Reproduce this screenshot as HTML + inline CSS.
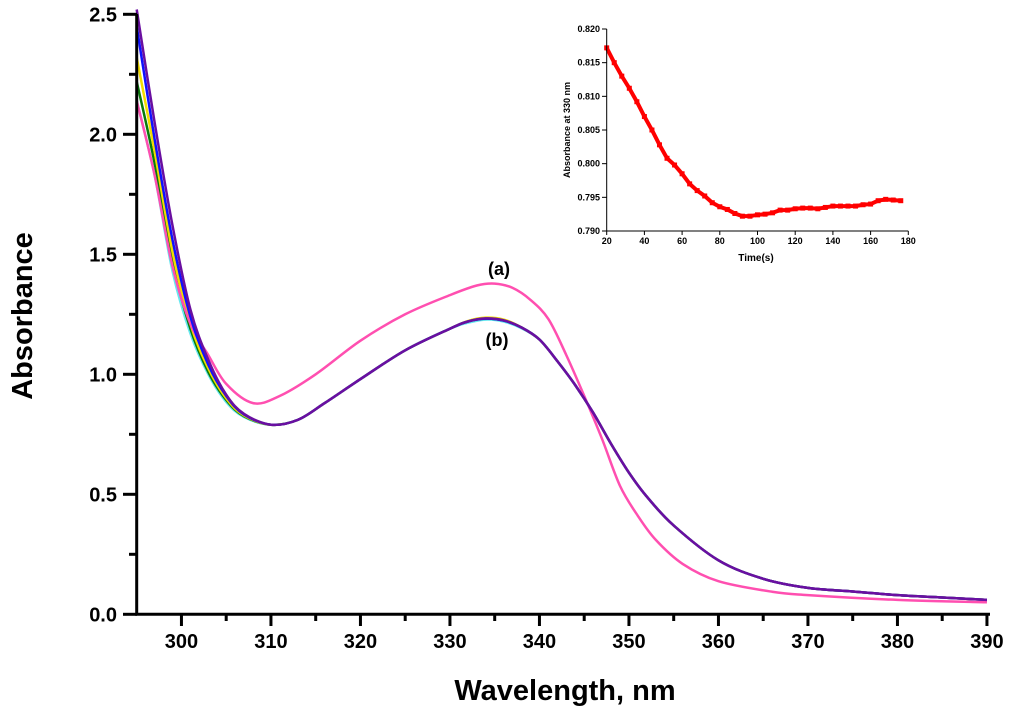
<!DOCTYPE html>
<html><head><meta charset="utf-8"><style>
body{margin:0;background:#fff;}
svg{display:block;font-family:"Liberation Sans",Arial,sans-serif;}
</style></head><body>
<svg id="chart" width="1017" height="709" viewBox="0 0 1017 709">
<g id="main"></g><g id="inset"></g>
</svg>
<script>
// ---- main chart data ----
const wlPurple=[295,297,299,301,303,305,307,310,313,316,320,325,330,332,334,336,338,340,342,344,346,348,350,352,355,360,365,370,375,380,385,390];
const absPurple=[2.52,2.05,1.62,1.27,1.06,0.915,0.835,0.79,0.81,0.88,0.98,1.10,1.19,1.22,1.233,1.225,1.195,1.145,1.055,0.955,0.84,0.71,0.59,0.49,0.37,0.225,0.148,0.11,0.095,0.08,0.07,0.06];
const absBlue=[2.45,1.98,1.56,1.24,1.04,0.91,0.832,0.79,0.81,0.88,0.98,1.10,1.19,1.22,1.232,1.224,1.195,1.145,1.055,0.955,0.84,0.71,0.59,0.49,0.37,0.225,0.148,0.11,0.095,0.08,0.07,0.06];
const absYellow=[2.32,1.93,1.51,1.21,1.025,0.90,0.828,0.79,0.81,0.88,0.98,1.10,1.19,1.222,1.236,1.228,1.195,1.145,1.055,0.955,0.84,0.71,0.59,0.49,0.37,0.225,0.148,0.11,0.095,0.08,0.07,0.06];
const absGreen=[2.22,1.88,1.47,1.19,1.01,0.893,0.825,0.79,0.81,0.88,0.98,1.10,1.19,1.22,1.232,1.224,1.195,1.145,1.055,0.955,0.84,0.71,0.59,0.49,0.37,0.225,0.148,0.11,0.095,0.08,0.07,0.06];
const absCyan=[2.14,1.83,1.43,1.17,1.00,0.885,0.822,0.79,0.81,0.88,0.98,1.10,1.19,1.215,1.228,1.22,1.192,1.145,1.055,0.955,0.84,0.71,0.59,0.49,0.37,0.225,0.148,0.11,0.095,0.08,0.07,0.06];
const wlPink=[295,297,299,301,303,305,308,311,315,320,325,330,333,335,337,339,341,343,345,347,349,351,353,356,360,366,370,380,390];
const absPink=[2.14,1.83,1.45,1.21,1.08,0.96,0.88,0.91,1.00,1.14,1.25,1.33,1.37,1.378,1.36,1.31,1.23,1.08,0.91,0.73,0.535,0.41,0.31,0.21,0.138,0.094,0.08,0.06,0.05];
const xTicks=[300,310,320,330,340,350,360,370,380,390];
const yTicks=[0.0,0.5,1.0,1.5,2.0,2.5];
// ---- inset data ----
const tInset=[20,24,28,32,36,40,44,48,52,56,60,64,68,72,76,80,84,88,92,96,100,104,108,112,116,120,124,128,132,136,140,144,148,152,156,160,164,168,172,176];
const aInset=[.8172,.8150,.8130,.8112,.8092,.8070,.8050,.8028,.8008,.7998,.7985,.7970,.7960,.7952,.7942,.7936,.7932,.7926,.7922,.7922,.7924,.7925,.7927,.7931,.7931,.7933,.7934,.7934,.7933,.7935,.7937,.7937,.7937,.7937,.7939,.7940,.7945,.7947,.7946,.7945];
const insetXTicks=[20,40,60,80,100,120,140,160,180];
const insetYTicks=[0.790,0.795,0.800,0.805,0.810,0.815,0.820];

const NS="http://www.w3.org/2000/svg";
function mk(tag,attrs,parent,text){const e=document.createElementNS(NS,tag);for(const k in attrs)e.setAttribute(k,attrs[k]);if(text!==undefined)e.textContent=text;parent.appendChild(e);return e;}
const X=v=>136.7+(v-295)*8.95;
const Y=v=>614.3-v*240;
function smooth(pts){let d=`M${pts[0][0]},${pts[0][1]}`;for(let i=0;i<pts.length-1;i++){const p0=pts[Math.max(0,i-1)],p1=pts[i],p2=pts[i+1],p3=pts[Math.min(pts.length-1,i+2)];const c1=[p1[0]+(p2[0]-p0[0])/6,p1[1]+(p2[1]-p0[1])/6],c2=[p2[0]-(p3[0]-p1[0])/6,p2[1]-(p3[1]-p1[1])/6];d+=`C${c1[0]},${c1[1]} ${c2[0]},${c2[1]} ${p2[0]},${p2[1]}`;}return d;}
const main=document.getElementById('main');
const series=[["spectrum-cyan",wlPurple,absCyan,"#66e8f0"],["spectrum-green",wlPurple,absGreen,"#0a7a0a"],["spectrum-yellow",wlPurple,absYellow,"#f2dc00"],["spectrum-pink-a",wlPink,absPink,"#ff4fb0"],["spectrum-blue",wlPurple,absBlue,"#1010ff"],["spectrum-purple-b",wlPurple,absPurple,"#6a0fa0"]];
series.forEach(s=>{const p=mk('path',{d:smooth(s[1].map((w,i)=>[X(w),Y(s[2][i])])),fill:'none',stroke:s[3],'stroke-width':2.5},main);

});
// axes
const ax=mk('path',{d:`M136.7,14 V614.3 H990`,fill:'none',stroke:'#000','stroke-width':3},main);


xTicks.forEach(v=>{mk('line',{x1:X(v),x2:X(v),y1:614,y2:626,stroke:'#000','stroke-width':3},main);
const t=mk('text',{x:X(v),y:648,'text-anchor':'middle','font-size':20,'font-weight':'bold'},main,String(v));

});
for(let v=305;v<390;v+=10)mk('line',{x1:X(v),x2:X(v),y1:614,y2:621,stroke:'#000','stroke-width':3},main);
yTicks.forEach(v=>{mk('line',{x1:123,x2:137,y1:Y(v),y2:Y(v),stroke:'#000','stroke-width':3},main);
const t=mk('text',{x:117,y:Y(v)+7,'text-anchor':'end','font-size':20,'font-weight':'bold'},main,v.toFixed(1));

});
for(let v=0.25;v<2.5;v+=0.5)mk('line',{x1:129,x2:137,y1:Y(v),y2:Y(v),stroke:'#000','stroke-width':3},main);
let t=mk('text',{x:565,y:700,'text-anchor':'middle','font-size':29,'font-weight':'bold'},main,'Wavelength, nm');


t=mk('text',{x:0,y:0,transform:'translate(32,316) rotate(-90)','text-anchor':'middle','font-size':29,'font-weight':'bold'},main,'Absorbance');


t=mk('text',{x:499,y:275,'text-anchor':'middle','font-size':18,'font-weight':'bold'},main,'(a)');


t=mk('text',{x:497,y:346,'text-anchor':'middle','font-size':18,'font-weight':'bold'},main,'(b)');


// inset
const ins=document.getElementById('inset');
const IX=v=>606.7+(v-20)*(908.3-606.7)/160;
const IY=v=>231-(v-0.790)*(202/0.030);
const il=mk('polyline',{points:tInset.map((v,i)=>`${IX(v)},${IY(aInset[i])}`).join(' '),fill:'none',stroke:'#f00','stroke-width':4},ins);


tInset.forEach((v,i)=>{const r=mk('rect',{x:IX(v)-2.5,y:IY(aInset[i])-2.5,width:5,height:5,fill:'#f00'},ins);

});
const iax=mk('path',{d:`M606.7,29 V231 H908.3`,fill:'none',stroke:'#000','stroke-width':1},ins);


insetXTicks.forEach(v=>{mk('line',{x1:IX(v),x2:IX(v),y1:231,y2:235,stroke:'#000'},ins);
const tt=mk('text',{x:IX(v),y:244,'text-anchor':'middle','font-size':9,'font-weight':'bold'},ins,String(v));

});
insetYTicks.forEach(v=>{mk('line',{x1:602,x2:606.7,y1:IY(v),y2:IY(v),stroke:'#000'},ins);
const tt=mk('text',{x:600,y:IY(v)+3,'text-anchor':'end','font-size':9,'font-weight':'bold'},ins,v.toFixed(3));

});
t=mk('text',{x:756,y:261,'text-anchor':'middle','font-size':10,'font-weight':'bold'},ins,'Time(s)');


t=mk('text',{x:0,y:0,transform:'translate(570,130) rotate(-90)','text-anchor':'middle','font-size':9,'font-weight':'bold'},ins,'Absorbance at 330 nm');


</script>
</body></html>
